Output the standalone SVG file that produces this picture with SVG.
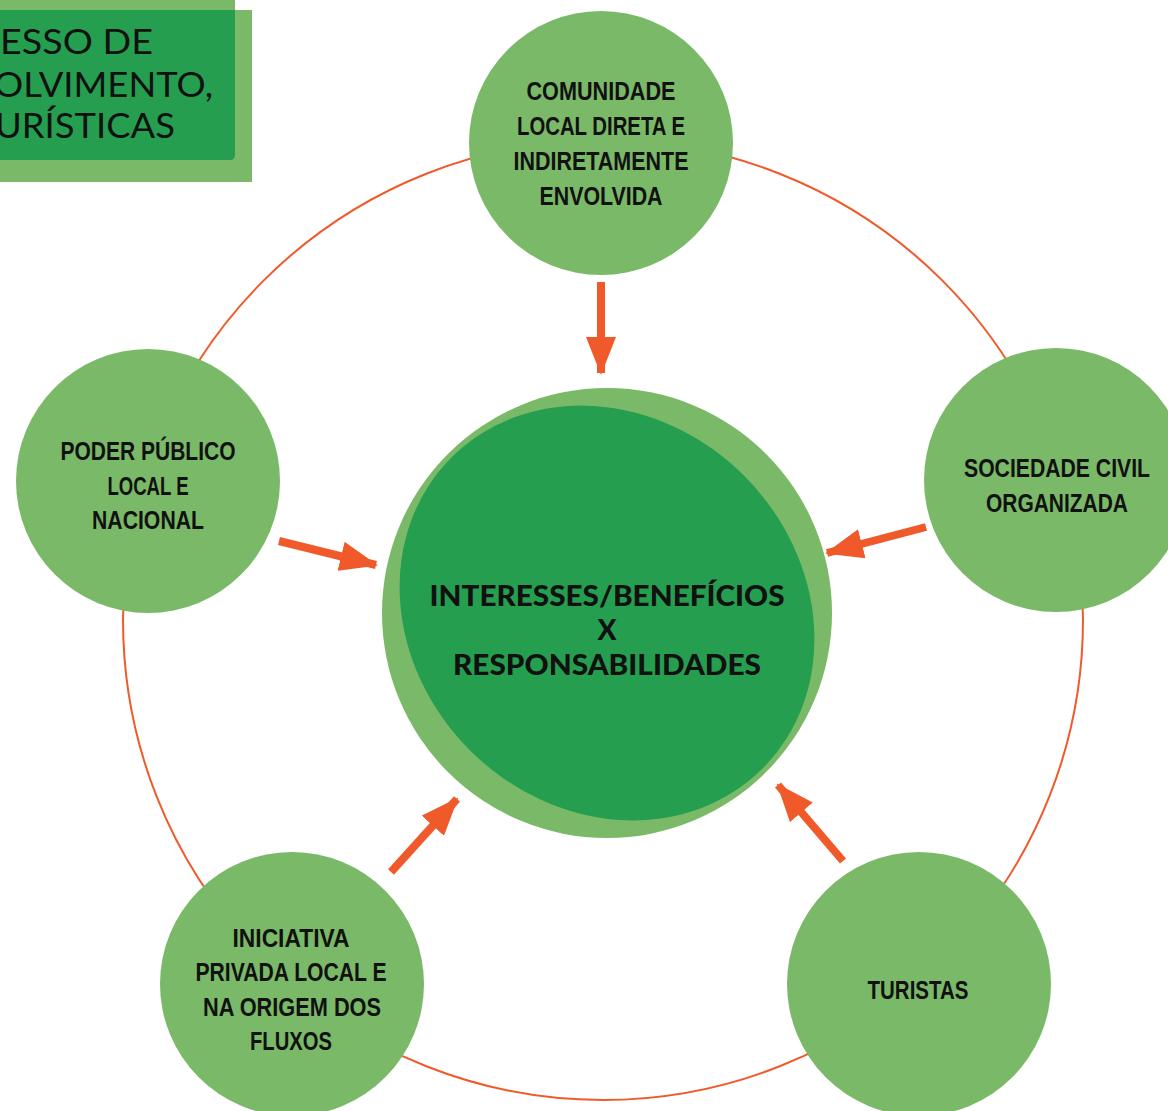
<svg xmlns="http://www.w3.org/2000/svg" width="1168" height="1111" viewBox="0 0 1168 1111">
  <style>
    .node { fill: #7ab968; }
    .lbl { font-family: "Liberation Sans", Arial, sans-serif; font-weight: bold; font-size: 25px; fill: #111; text-anchor: middle; }
    .ctr { font-family: Lato, "Liberation Sans", sans-serif; font-weight: 900; font-size: 28px; fill: #111; text-anchor: middle; }
    .ttl { font-family: Lato, "Liberation Sans", sans-serif; font-size: 35px; fill: #111; }
    .arr { stroke: #f05a2a; stroke-width: 8; fill: none; marker-end: url(#head); }
  </style>
  <defs>
    <marker id="head" markerUnits="strokeWidth" markerWidth="4.75" markerHeight="3.75" refX="4.5" refY="1.875" orient="auto">
      <path d="M0,0 L4.75,1.875 L0,3.75 z" fill="#f05a2a"/>
    </marker>
  </defs>
  <rect width="1168" height="1111" fill="#ffffff"/>

  <g id="title-box">
    <rect x="0" y="0" width="235" height="20" fill="#7ab968"/>
    <rect x="0" y="10" width="252" height="172" fill="#7ab968"/>
    <path d="M0,10 H235 V155 Q235,160 230,160 H0 z" fill="#259f4f"/>
    <text class="ttl" x="0" y="54" textLength="153" lengthAdjust="spacingAndGlyphs">ESSO DE</text>
    <text class="ttl" x="-6" y="97" textLength="219" lengthAdjust="spacingAndGlyphs">OLVIMENTO,</text>
    <text class="ttl" x="-5" y="138" textLength="180" lengthAdjust="spacingAndGlyphs">URÍSTICAS</text>
  </g>

  <g id="connectors">
    <circle cx="603" cy="620" r="480" fill="none" stroke="#f05a2a" stroke-width="2"/>
    <line class="arr" x1="601" y1="282" x2="601" y2="373"/>
    <line class="arr" x1="279" y1="541" x2="376" y2="565"/>
    <line class="arr" x1="926" y1="527" x2="827" y2="553"/>
    <line class="arr" x1="391" y1="872" x2="457" y2="799"/>
    <line class="arr" x1="843" y1="861" x2="778" y2="785"/>
  </g>

  <g id="center">
    <circle cx="607" cy="613" r="225" fill="#7ab968"/>
    <ellipse cx="607" cy="613" rx="220" ry="194" transform="rotate(45 607 613)" fill="#259f4f"/>
    <text class="ctr" x="607" y="606" textLength="355" lengthAdjust="spacingAndGlyphs">INTERESSES/BENEFÍCIOS</text>
    <text class="ctr" x="607" y="640">X</text>
    <text class="ctr" x="607" y="675" textLength="308" lengthAdjust="spacingAndGlyphs">RESPONSABILIDADES</text>
  </g>

  <g id="node-comunidade">
    <circle class="node" cx="601" cy="143" r="132"/>
    <text class="lbl" x="601" y="100" textLength="149" lengthAdjust="spacingAndGlyphs">COMUNIDADE</text>
    <text class="lbl" x="601" y="135" textLength="168" lengthAdjust="spacingAndGlyphs">LOCAL DIRETA E</text>
    <text class="lbl" x="601" y="170" textLength="175" lengthAdjust="spacingAndGlyphs">INDIRETAMENTE</text>
    <text class="lbl" x="601" y="205" textLength="123" lengthAdjust="spacingAndGlyphs">ENVOLVIDA</text>
  </g>

  <g id="node-poder-publico">
    <circle class="node" cx="148" cy="481" r="132"/>
    <text class="lbl" x="148" y="460" textLength="175" lengthAdjust="spacingAndGlyphs">PODER PÚBLICO</text>
    <text class="lbl" x="148" y="495" textLength="81" lengthAdjust="spacingAndGlyphs">LOCAL E</text>
    <text class="lbl" x="148" y="529" textLength="112" lengthAdjust="spacingAndGlyphs">NACIONAL</text>
  </g>

  <g id="node-sociedade-civil">
    <circle class="node" cx="1056" cy="480" r="132"/>
    <text class="lbl" x="1057" y="477" textLength="186" lengthAdjust="spacingAndGlyphs">SOCIEDADE CIVIL</text>
    <text class="lbl" x="1057" y="512" textLength="142" lengthAdjust="spacingAndGlyphs">ORGANIZADA</text>
  </g>

  <g id="node-iniciativa-privada">
    <circle class="node" cx="292" cy="984" r="132"/>
    <text class="lbl" x="291" y="947" textLength="117" lengthAdjust="spacingAndGlyphs">INICIATIVA</text>
    <text class="lbl" x="291" y="981" textLength="191" lengthAdjust="spacingAndGlyphs">PRIVADA LOCAL  E</text>
    <text class="lbl" x="292" y="1016" textLength="178" lengthAdjust="spacingAndGlyphs">NA ORIGEM DOS</text>
    <text class="lbl" x="291" y="1050" textLength="82" lengthAdjust="spacingAndGlyphs">FLUXOS</text>
  </g>

  <g id="node-turistas">
    <circle class="node" cx="919" cy="984" r="132"/>
    <text class="lbl" x="918" y="999" textLength="101" lengthAdjust="spacingAndGlyphs">TURISTAS</text>
  </g>
</svg>
